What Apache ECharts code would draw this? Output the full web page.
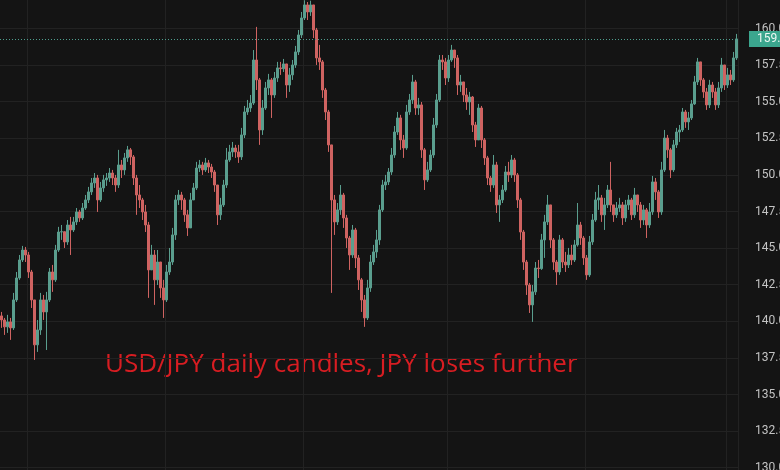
<!DOCTYPE html>
<html>
<head>
<meta charset="utf-8">
<script src="https://cdn.jsdelivr.net/npm/echarts@6/dist/echarts.min.js"></script>
<style>
html,body{margin:0;padding:0;background:#141414;}
#chart{width:780px;height:470px;}
</style>
</head>
<body>
<div id="chart"></div>
<script>
// Daily candles
const opens = [
140.37, 140.09, 139.62, 139.96, 139.55, 141.46, 142.96, 144.19, 144.87, 144.53,
143.37, 141.46, 138.39, 139.41, 141.46, 140.64, 141.46, 143.37, 142.83, 144.87,
146.10, 146.12, 145.42, 146.58, 146.24, 146.79, 147.47, 147.06, 147.74, 148.29,
148.84, 149.45, 149.79, 148.29, 149.11, 149.66, 149.79, 150.13, 149.79, 149.31,
150.68, 150.34, 151.16, 151.71, 151.23, 149.79, 148.63, 148.29, 147.47, 146.58,
143.51, 144.53, 142.83, 144.05, 142.28, 141.46, 143.37, 144.05, 145.90, 148.29,
148.63, 148.29, 147.27, 146.38, 148.29, 149.11, 150.47, 150.68, 150.34, 150.82,
150.54, 150.20, 149.31, 147.27, 147.95, 149.31, 151.02, 151.57, 151.84, 151.57,
151.23, 152.73, 154.30, 154.57, 154.91, 157.85, 156.49, 153.07, 154.57, 155.94,
156.49, 155.46, 156.62, 157.31, 157.25, 157.58, 156.14, 156.83, 157.51, 158.40,
159.56, 160.72, 161.61, 161.13, 161.61, 159.90, 157.99, 157.72, 155.80, 154.30,
152.05, 148.29, 146.79, 147.61, 148.63, 147.06, 145.69, 144.53, 146.24, 144.33,
142.83, 141.46, 140.23, 142.28, 144.05, 144.74, 145.56, 147.61, 149.31, 149.52,
150.20, 151.36, 152.93, 153.89, 152.39, 151.84, 154.30, 155.12, 156.35, 154.57,
154.78, 151.71, 149.66, 150.34, 151.36, 153.41, 155.12, 157.85, 157.72, 156.62,
157.85, 158.53, 157.99, 156.14, 156.35, 155.46, 154.98, 155.32, 153.41, 152.39,
154.57, 152.39, 151.16, 149.79, 149.31, 150.68, 147.95, 148.29, 148.97, 150.20,
150.00, 151.02, 150.00, 148.29, 146.10, 144.05, 142.48, 141.12, 142.01, 143.64,
143.60, 145.56, 146.79, 147.95, 145.56, 144.05, 143.37, 145.56, 144.05, 143.85,
144.53, 144.19, 145.22, 146.58, 145.69, 144.33, 143.17, 145.42, 146.92, 148.29,
148.43, 147.27, 147.95, 148.97, 147.95, 147.27, 147.74, 147.95, 147.06, 147.95,
148.29, 147.27, 148.63, 147.95, 146.92, 147.61, 146.58, 147.47, 149.52, 148.84,
147.47, 150.34, 152.52, 151.71, 150.34, 152.05, 152.93, 153.07, 154.30, 153.62,
153.89, 154.85, 156.35, 157.72, 156.49, 155.67, 154.78, 156.14, 155.67, 154.78,
155.94, 157.51, 156.14, 156.83, 156.49, 157.99
];
const closes = [
140.09, 139.62, 139.96, 139.55, 141.46, 142.96, 144.19, 144.87, 144.53, 143.37,
141.46, 138.39, 139.41, 141.46, 140.64, 141.46, 143.37, 142.83, 144.87, 146.10,
146.12, 145.42, 146.58, 146.24, 146.79, 147.47, 147.06, 147.74, 148.29, 148.84,
149.45, 149.79, 148.29, 149.11, 149.66, 149.79, 150.13, 149.79, 149.31, 150.68,
150.34, 151.16, 151.71, 151.23, 149.79, 148.63, 148.29, 147.47, 146.58, 143.51,
144.53, 142.83, 144.05, 142.28, 141.46, 143.37, 144.05, 145.90, 148.29, 148.63,
148.29, 147.27, 146.38, 148.29, 149.11, 150.47, 150.68, 150.34, 150.82, 150.54,
150.20, 149.31, 147.27, 147.95, 149.31, 151.02, 151.57, 151.84, 151.57, 151.23,
152.73, 154.30, 154.57, 154.91, 157.85, 156.49, 153.07, 154.57, 155.94, 156.49,
155.46, 156.62, 157.31, 157.25, 157.58, 156.14, 156.83, 157.51, 158.40, 159.56,
160.72, 161.61, 161.13, 161.61, 159.90, 157.99, 157.72, 155.80, 154.30, 152.05,
148.29, 146.79, 147.61, 148.63, 147.06, 145.69, 144.53, 146.24, 144.33, 142.83,
141.46, 140.23, 142.28, 144.05, 144.74, 145.56, 147.61, 149.31, 149.52, 150.20,
151.36, 152.93, 153.89, 152.39, 151.84, 154.30, 155.12, 156.35, 154.57, 154.78,
151.71, 149.66, 150.34, 151.36, 153.41, 155.12, 157.85, 157.72, 156.62, 157.85,
158.53, 157.99, 156.14, 156.35, 155.46, 154.98, 155.32, 153.41, 152.39, 154.57,
152.39, 151.16, 149.79, 149.31, 150.68, 147.95, 148.29, 148.97, 150.20, 150.00,
151.02, 150.00, 148.29, 146.10, 144.05, 142.48, 141.12, 142.01, 143.64, 143.60,
145.56, 146.79, 147.95, 145.56, 144.05, 143.37, 145.56, 144.05, 143.85, 144.53,
144.19, 145.22, 146.58, 145.69, 144.33, 143.17, 145.42, 146.92, 148.29, 148.43,
147.27, 147.95, 148.97, 147.95, 147.27, 147.74, 147.95, 147.06, 147.95, 148.29,
147.27, 148.63, 147.95, 146.92, 147.61, 146.58, 147.47, 149.52, 148.84, 147.47,
150.34, 152.52, 151.71, 150.34, 152.05, 152.93, 153.07, 154.30, 153.62, 153.89,
154.85, 156.35, 157.72, 156.49, 155.67, 154.78, 156.14, 155.67, 154.78, 155.94,
157.51, 156.14, 156.83, 156.49, 157.99, 159.29
];
const highs = [
140.64, 140.23, 140.44, 140.23, 141.94, 143.37, 144.53, 145.15, 145.08, 144.74,
143.51, 141.46, 140.09, 141.94, 141.80, 142.01, 143.64, 143.85, 145.22, 146.45,
146.58, 146.10, 146.92, 147.13, 147.13, 147.74, 147.61, 148.08, 148.63, 149.18,
149.79, 150.13, 150.00, 149.52, 150.00, 150.13, 150.47, 150.34, 150.00, 151.71,
151.02, 151.50, 151.98, 151.84, 151.36, 150.00, 149.31, 148.43, 147.95, 146.79,
145.22, 144.87, 144.87, 144.05, 142.83, 143.85, 145.01, 146.38, 148.63, 148.97,
148.84, 148.43, 147.61, 148.77, 149.45, 150.89, 151.02, 150.89, 151.16, 151.02,
150.75, 150.34, 149.31, 148.43, 149.66, 151.84, 152.05, 152.25, 152.05, 152.05,
153.21, 154.71, 155.12, 155.46, 158.53, 160.11, 156.62, 155.12, 156.35, 156.90,
156.62, 157.03, 157.72, 157.72, 157.92, 157.51, 157.31, 157.85, 158.81, 159.90,
161.13, 161.93, 161.81, 161.90, 161.61, 160.04, 158.88, 157.85, 155.94, 154.44,
152.05, 148.63, 148.08, 149.31, 148.77, 147.27, 145.83, 146.58, 146.38, 144.53,
142.96, 141.80, 142.83, 144.53, 145.22, 146.24, 147.95, 149.66, 150.00, 150.47,
151.84, 153.34, 154.30, 154.10, 152.73, 154.78, 155.53, 156.83, 156.49, 155.26,
154.98, 151.84, 150.89, 151.71, 153.89, 155.53, 158.19, 158.19, 157.99, 158.19,
158.88, 158.53, 158.19, 156.83, 156.35, 155.94, 155.67, 155.39, 153.62, 154.85,
154.71, 152.52, 151.30, 149.93, 151.36, 150.89, 148.63, 149.31, 150.61, 150.89,
151.36, 151.16, 150.13, 148.43, 146.24, 144.19, 142.62, 142.48, 144.05, 144.19,
145.97, 147.27, 148.63, 147.95, 145.69, 144.19, 145.90, 145.69, 144.74, 145.01,
145.22, 145.56, 148.08, 146.79, 145.83, 144.53, 145.83, 147.33, 148.84, 149.31,
148.63, 148.43, 149.31, 150.89, 147.95, 148.15, 148.43, 148.15, 148.29, 148.63,
148.43, 149.11, 148.63, 148.15, 147.95, 147.74, 148.08, 149.93, 149.79, 148.97,
150.89, 153.07, 152.73, 151.84, 152.39, 153.21, 153.41, 154.57, 154.44, 154.30,
155.12, 156.76, 157.99, 157.72, 156.62, 155.94, 156.49, 156.35, 155.94, 156.35,
157.99, 157.51, 157.31, 157.17, 158.40, 159.63
];
const lows = [
139.55, 139.07, 139.21, 138.73, 139.41, 141.32, 142.83, 144.05, 144.05, 142.96,
140.91, 137.36, 137.91, 139.07, 140.09, 138.04, 141.32, 142.01, 142.69, 144.74,
145.56, 145.01, 145.22, 144.53, 146.10, 146.58, 146.79, 146.92, 147.61, 148.08,
148.63, 149.11, 147.47, 148.15, 148.84, 149.25, 149.52, 149.31, 148.84, 149.11,
149.79, 150.00, 150.89, 150.68, 149.31, 147.27, 147.74, 146.92, 146.10, 141.60,
143.64, 141.12, 142.48, 141.60, 140.23, 141.32, 143.17, 143.85, 145.56, 147.95,
147.61, 146.79, 145.83, 146.58, 148.29, 148.97, 150.20, 150.00, 150.20, 150.13,
149.79, 148.84, 146.58, 146.92, 147.81, 149.11, 150.89, 151.23, 151.16, 150.82,
151.02, 152.52, 154.10, 154.30, 154.78, 155.80, 152.05, 152.73, 154.44, 155.46,
153.89, 155.26, 156.35, 156.83, 157.03, 155.26, 155.67, 156.49, 157.31, 158.19,
159.35, 160.58, 160.58, 160.86, 159.35, 157.51, 157.17, 155.26, 153.75, 151.57,
141.94, 145.90, 146.58, 147.27, 146.38, 145.01, 143.51, 144.33, 143.64, 142.14,
140.64, 139.62, 140.09, 142.01, 143.85, 144.33, 145.22, 147.47, 148.97, 149.31,
150.00, 151.16, 152.73, 151.71, 151.16, 151.71, 154.10, 154.85, 154.10, 154.10,
151.16, 148.97, 149.52, 150.20, 151.16, 153.21, 154.98, 157.17, 156.14, 156.35,
157.72, 157.31, 155.46, 155.67, 154.98, 154.44, 154.10, 152.93, 151.91, 152.39,
151.84, 150.68, 149.31, 148.84, 149.11, 147.40, 146.79, 148.08, 148.84, 149.52,
149.79, 149.52, 147.74, 145.56, 143.51, 141.80, 140.57, 139.96, 141.80, 142.96,
143.51, 144.33, 146.58, 145.01, 143.51, 142.48, 143.17, 143.64, 143.37, 143.64,
143.85, 144.05, 145.10, 145.22, 143.85, 142.83, 143.03, 145.22, 146.79, 147.61,
146.79, 146.24, 147.74, 147.47, 146.79, 147.06, 147.47, 146.58, 146.79, 147.61,
146.92, 147.06, 147.47, 146.38, 146.58, 145.69, 146.38, 147.27, 148.29, 147.06,
147.27, 150.20, 151.16, 149.79, 150.20, 151.84, 152.25, 152.93, 153.21, 153.07,
153.75, 154.78, 156.14, 156.08, 155.26, 154.44, 154.57, 155.26, 154.44, 154.57,
155.67, 155.80, 155.94, 156.14, 156.35, 157.85
];
// Price axis ticks (every 2.5)
const priceMin = 127.5, priceMax = 162.5, priceStep = 2.5;
// Candle indices where the vertical period grid lines fall
const periodBreaks = [9, 55, 101, 149, 195, 242];
const title = 'USD/JPY daily candles, JPY loses further';

const days = closes.map((_, i) => 'D' + (i + 1));
const ohlc = closes.map((c, i) => [opens[i], c, lows[i], highs[i]]);
const last = closes[closes.length - 1];

const chart = echarts.init(document.getElementById('chart'), null, {renderer: 'canvas'});
chart.setOption({
  backgroundColor: '#141414',
  animation: false,
  grid: {left: 0, right: 42, top: -8.1, bottom: -34.3, containLabel: false, outerBoundsMode: 'none'},
  xAxis: {
    type: 'category',
    data: days,
    boundaryGap: true,
    axisLine: {show: false},
    axisTick: {show: false},
    axisLabel: {show: false},
    splitLine: {
      show: true,
      interval: (idx) => periodBreaks.indexOf(idx) >= 0,
      lineStyle: {color: '#222222', width: 1}
    }
  },
  yAxis: {
    type: 'value',
    position: 'right',
    min: priceMin, max: priceMax, interval: priceStep,
    axisLine: {show: false},
    axisTick: {show: false},
    axisLabel: {
      color: '#c4c4c4', fontSize: 12, margin: 17,
      fontFamily: 'Roboto',
      formatter: (v) => v.toFixed(3)
    },
    splitLine: {show: true, lineStyle: {color: '#222222', width: 1}}
  },
  series: [{
    type: 'candlestick',
    data: ohlc,
    barWidth: 2,
    itemStyle: {
      color: '#5a9e8e', color0: '#cf6361',
      borderColor: '#5a9e8e', borderColor0: '#cf6361',
      borderWidth: 1
    },
    markLine: {
      silent: true,
      symbol: ['none', 'none'],
      data: [{yAxis: last}],
      lineStyle: {type: [1, 2], color: '#4f9e8e', width: 1},
      label: {
        show: true,
        position: 'end',
        distance: 11,
        formatter: () => last.toFixed(3),
        backgroundColor: '#3ba68e',
        color: '#eef8f4',
        fontSize: 12,
        fontFamily: 'Roboto',
        padding: [2, 4, 2, 8]
      }
    }
  }],
  graphic: [{
    type: 'text',
    x: 105, y: 365,
    silent: true,
    style: {
      text: title,
      fill: '#d81d22',
      font: '26px "Open Sans"',
      verticalAlign: 'middle'
    }
  }]
});
</script>
</body>
</html>
